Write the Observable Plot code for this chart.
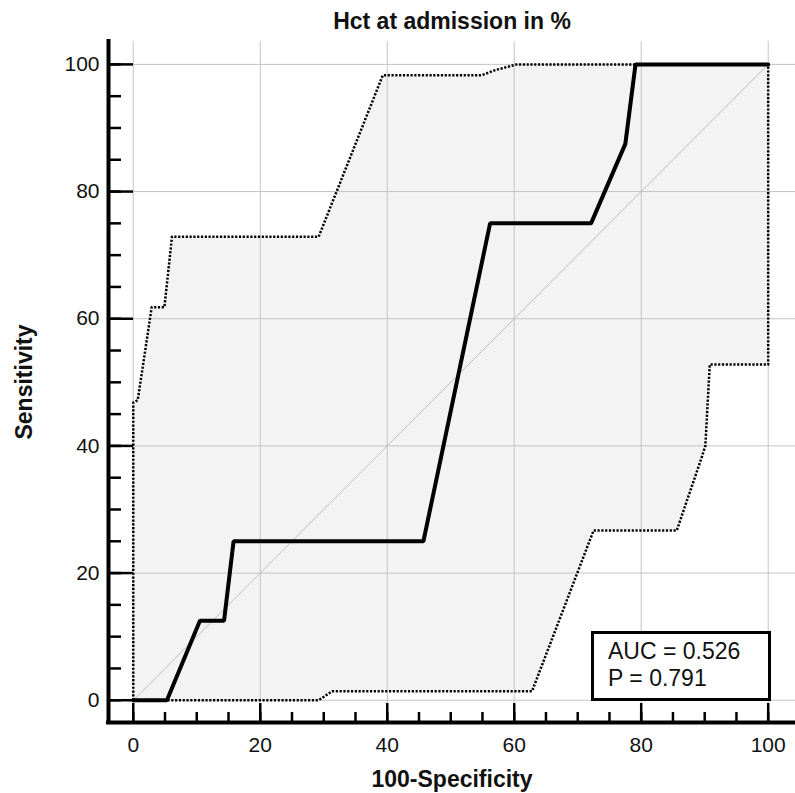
<!DOCTYPE html>
<html><head><meta charset="utf-8">
<script src="https://cdn.jsdelivr.net/npm/d3@7"></script>
<script src="https://cdn.jsdelivr.net/npm/@observablehq/plot@0.6"></script>
<style>
body{margin:0;background:#fff;}
#wrap{position:relative;width:795px;height:793px;font-family:"Liberation Sans",Arial,sans-serif;}
#auc{position:absolute;left:591px;top:631px;width:180px;height:70px;box-sizing:border-box;border:3px solid #000;background:#fff;font-size:23px;line-height:27px;padding:4px 0 0 14px;color:#111;white-space:nowrap;}
</style></head><body><div id="wrap"></div>
<script>
const title = "Hct at admission in %";
const xLabel = "100-Specificity";
const yLabel = "Sensitivity";
const aucLines = ["AUC = 0.526", "P = 0.791"];

// ROC curve (100-Specificity, Sensitivity)
const rocX = [0, 5.3, 10.5, 14.3, 15.8, 45.7, 56.2, 72.1, 77.5, 79.1, 100];
const rocY = [0, 0, 12.5, 12.5, 25, 25, 75, 75, 87.5, 100, 100];

// Upper confidence bound
const upperX = [0, 0, 0.7, 2.9, 4.9, 6.1, 29.2, 39.3, 54.9, 57.0, 60.4, 100];
const upperY = [0, 46.8, 47.2, 61.8, 61.8, 72.9, 72.9, 98.3, 98.3, 99.1, 100, 100];

// Lower confidence bound
const lowerX = [0, 29.2, 31.3, 62.8, 72.5, 85.6, 89.5, 90.1, 90.8, 100, 100];
const lowerY = [0, 0, 1.4, 1.4, 26.7, 26.7, 38.1, 40, 52.8, 52.8, 100];

// Chance diagonal
const diagX = [0, 100];
const diagY = [0, 100];

const majorTicks = [0, 20, 40, 60, 80, 100];
const minorTicks = [0, 5, 10, 15, 20, 25, 30, 35, 40, 45, 50, 55, 60, 65, 70, 75, 80, 85, 90, 95, 100];

const xDomain = [-3.9, 104.3];
const yDomain = [-3.5, 103.6];

const pts = (xs, ys) => xs.map((x, i) => ({x, y: ys[i]}));
const roc = pts(rocX, rocY);
const upper = pts(upperX, upperY);
const lower = pts(lowerX, lowerY);
const band = upper.concat(lower.slice().reverse());
const diag = pts(diagX, diagY);

const plot = Plot.plot({
  width: 795, height: 793,
  marginLeft: 108, marginRight: 0, marginTop: 41, marginBottom: 71,
  style: {fontFamily: "'Liberation Sans', Arial, sans-serif", fontSize: "21px", color: "#111", background: "#fff", overflow: "visible"},
  x: {domain: xDomain, label: null},
  y: {domain: yDomain, label: null},
  marks: [
    Plot.line(band, {x: "x", y: "y", fill: "#f3f3f3", stroke: "none"}),
    Plot.gridX(majorTicks, {stroke: "#c4c4c4", strokeOpacity: 1, strokeWidth: 1}),
    Plot.gridY(majorTicks, {stroke: "#c4c4c4", strokeOpacity: 1, strokeWidth: 1}),
    Plot.line(diag, {x: "x", y: "y", stroke: "#bcbcbc", strokeWidth: 1}),
    Plot.line(upper, {x: "x", y: "y", stroke: "#000", strokeWidth: 2.5, strokeDasharray: "2.2,1.6", strokeLinecap: "butt"}),
    Plot.line(lower, {x: "x", y: "y", stroke: "#000", strokeWidth: 2.5, strokeDasharray: "2.2,1.6", strokeLinecap: "butt"}),
    Plot.line(roc, {x: "x", y: "y", stroke: "#000", strokeWidth: 4, strokeLinejoin: "miter"}),
    Plot.ruleX([xDomain[0]], {stroke: "#000", strokeWidth: 4, strokeLinecap: "square"}),
    Plot.ruleY([yDomain[0]], {stroke: "#000", strokeWidth: 4, strokeLinecap: "square"}),
    Plot.axisX(minorTicks, {tickSize: -10, tickFormat: () => "", label: null, strokeWidth: 2.5, stroke: "#000"}),
    Plot.axisX(majorTicks, {tickSize: -19, tickPadding: 34, strokeWidth: 2.5, stroke: "#000", fontSize: 21,
      label: xLabel, labelAnchor: "center", labelArrow: "none", labelOffset: 64}),
    Plot.axisY(minorTicks, {tickSize: -13, tickFormat: () => "", label: null, strokeWidth: 2.5, stroke: "#000"}),
    Plot.axisY(majorTicks, {tickSize: -25, tickPadding: 34, strokeWidth: 2.5, stroke: "#000", fontSize: 21,
      label: yLabel, labelAnchor: "center", labelArrow: "none", labelOffset: 93}),
    Plot.text([title], {frameAnchor: "top", dy: -20, fontSize: 23, fontWeight: "bold", lineAnchor: "middle", fill: "#111"})
  ]
});
// bold axis labels
plot.querySelectorAll("g[aria-label='x-axis label'] text, g[aria-label='y-axis label'] text").forEach(t => {
  t.setAttribute("font-weight", "bold"); t.setAttribute("font-size", "23");
});
const wrap = document.getElementById("wrap");
wrap.appendChild(plot);
const box = document.createElement("div");
box.id = "auc";
box.innerHTML = aucLines.join("<br>");
wrap.appendChild(box);
</script>
</body></html>
